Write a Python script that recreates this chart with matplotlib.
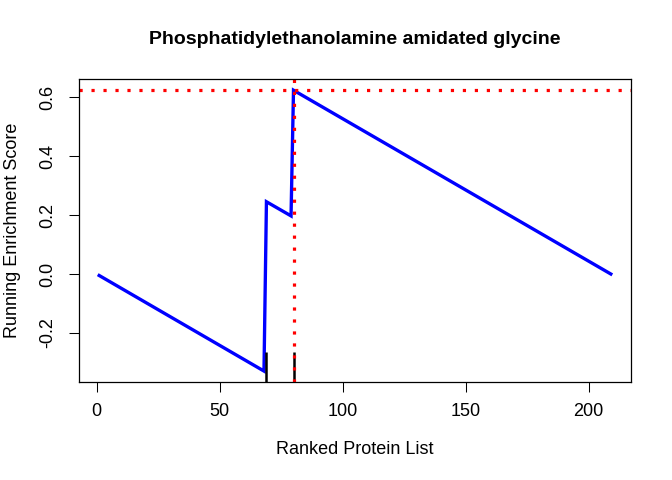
import matplotlib
matplotlib.use("Agg")
import matplotlib.pyplot as plt

# running enrichment score (vertices of the curve)
rank = [1, 68, 69, 79, 80, 209]
es = [-0.005, -0.329, 0.245, 0.197, 0.623, 0.0]

# positions of set members in the ranked list
hit_ranks = [69, 80]
max_rank = 80
max_es = 0.623

xticks = [0, 50, 100, 150, 200]
yticks = [-0.2, 0.0, 0.2, 0.4, 0.6]
ytick_labels = ["-0.2", "0.0", "0.2", "0.4", "0.6"]

plt.rcParams['font.family'] = ['Liberation Sans', 'DejaVu Sans']

fig = plt.figure(figsize=(6.72, 4.8), dpi=100)
ax = fig.add_axes([78.7 / 672, 1 - 382.3 / 480, (631.3 - 78.7) / 672, (382.3 - 79) / 480])

# R-like 4% padding
x0, x1 = min(rank), max(rank)
y0, y1 = min(es), max(max(es), max_es)
px = 0.04 * (x1 - x0)
py = 0.04 * (y1 - y0)
ax.set_xlim(x0 - px, x1 + px)
ax.set_ylim(y0 - py, y1 + py)

ax.plot(rank, es, color="blue", lw=2.4, solid_joinstyle="miter")
ax.vlines(hit_ranks, y0 - py - 0.05, -0.263, color="black", lw=1.8)
ax.axhline(max_es, color="red", lw=2.3, linestyle=(0, (1, 2.75)))
ax.axvline(max_rank, color="red", lw=2.3, linestyle=(0, (1, 2.75)))

ax.set_xticks(xticks)
ax.set_xticklabels([str(t) for t in xticks])
ax.set_yticks(yticks)
ax.set_yticklabels(ytick_labels, rotation=90, va="center")
ax.tick_params(length=7.2, width=0.75, labelsize=13, pad=8, color="black")
ax.tick_params(axis="y", pad=9)
for s in ax.spines.values():
    s.set_linewidth(0.9)

fig.text(355 / 672, 1 - 40 / 480, "Phosphatidylethanolamine amidated glycine",
         ha="center", va="center", fontsize=14, fontweight="bold")
fig.text(355 / 672, 1 - 449 / 480, "Ranked Protein List", ha="center", va="center", fontsize=13)
fig.text(13 / 672, 1 - 230.7 / 480, "Running Enrichment Score", ha="center", va="center",
         fontsize=13, rotation=90)

fig.savefig("out.png", dpi=100)
